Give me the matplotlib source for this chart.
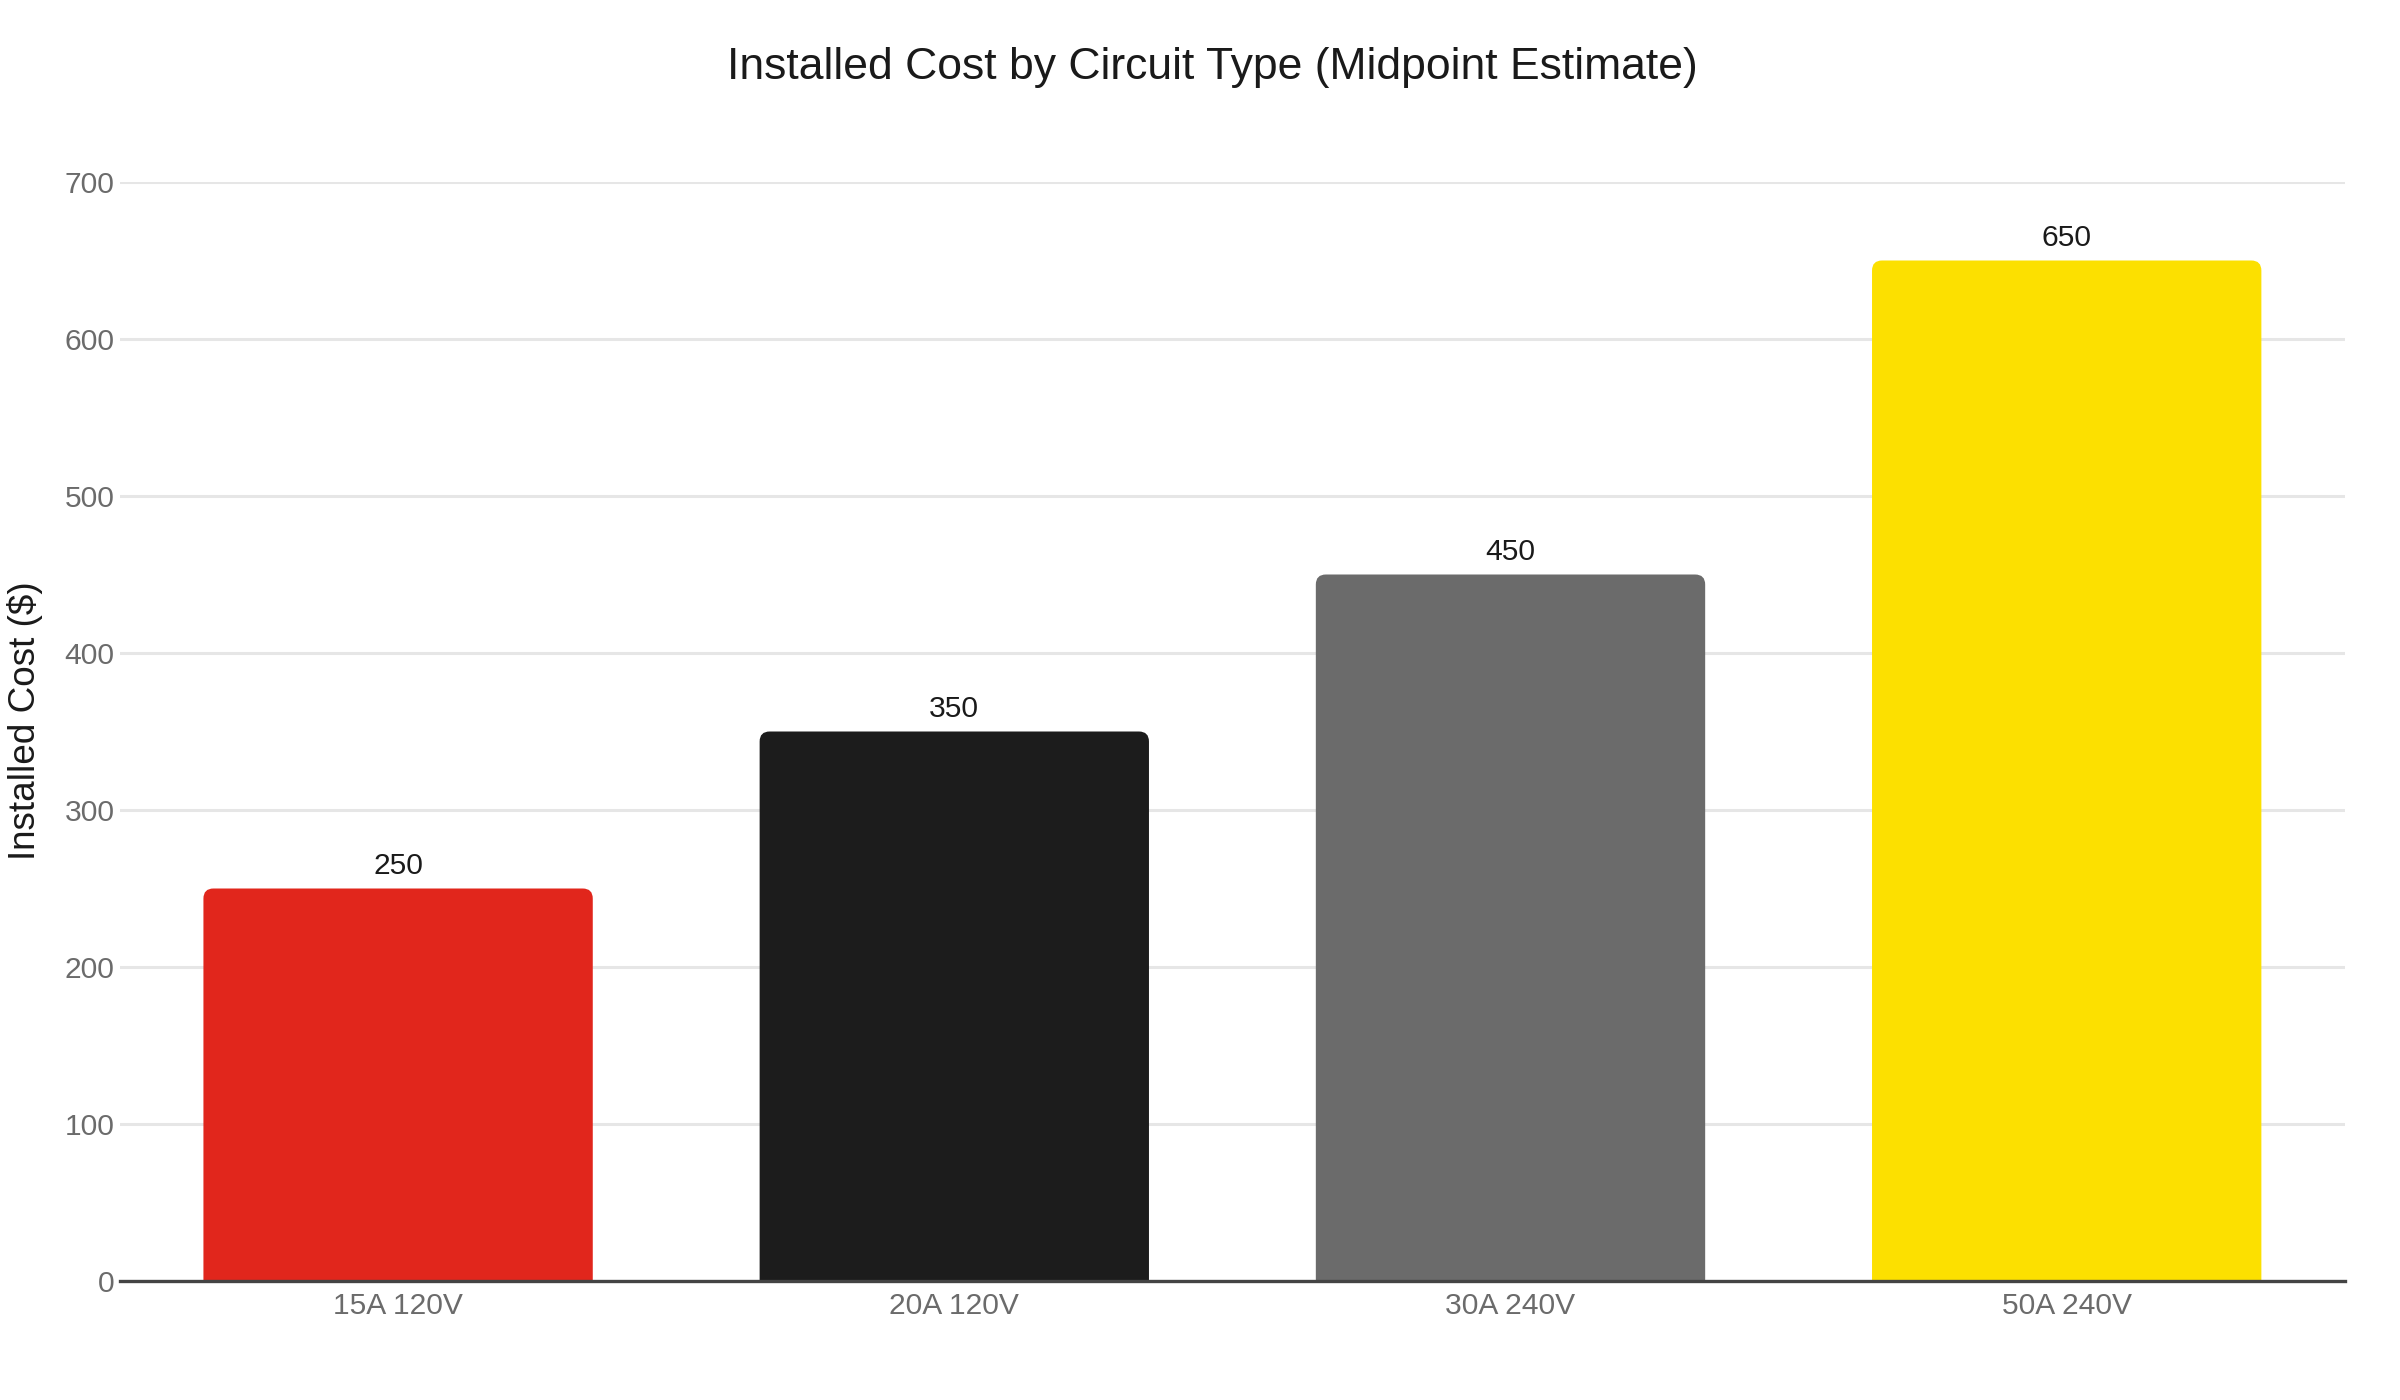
import matplotlib.pyplot as plt
from matplotlib.patches import FancyBboxPatch

plt.rcParams['font.family'] = ['Liberation Sans', 'DejaVu Sans']

circuits = ['15A 120V', '20A 120V', '30A 240V', '50A 240V']
costs = [250, 350, 450, 650]
colors = ['#E1261C', '#1C1C1C', '#6B6B6B', '#FCE000']

fig = plt.figure(figsize=(12, 7), dpi=200)
ax = fig.add_axes([0.050, 0.085, 0.927, 0.785])

xs = list(range(len(circuits)))
bars = ax.bar(xs, costs, width=0.7, color=colors, zorder=2)

ax.set_xlim(-0.5, len(circuits) - 0.5)
ax.set_ylim(0, 700)

# swap the square bars for ones with rounded top corners
px_per_x = 0.927 * 2400 / len(circuits)
px_per_y = 0.785 * 1400 / 700
radius = 10 / px_per_x
for b in bars:
    b.set_visible(False)
    patch = FancyBboxPatch((b.get_x(), -20), b.get_width(), b.get_height() + 20,
                           boxstyle=f'round,pad=0,rounding_size={radius}',
                           mutation_aspect=px_per_x / px_per_y,
                           facecolor=b.get_facecolor(), edgecolor='none',
                           zorder=2, clip_on=True)
    ax.add_patch(patch)
    ax.annotate(f'{b.get_height():.0f}', (b.get_x() + b.get_width() / 2, b.get_height()),
                xytext=(0, 3), textcoords='offset points', ha='center', va='bottom',
                fontsize=10.8, color='#1a1a1a')

ax.set_xticks(xs)
ax.set_xticklabels(circuits)
ax.set_yticks(range(0, 701, 100))
ax.tick_params(axis='both', length=0, labelsize=10.8, labelcolor='#6b6b6b')
ax.tick_params(axis='x', pad=4)
ax.tick_params(axis='y', pad=2)

ax.grid(axis='y', color='#e6e6e6', linewidth=1.1, zorder=0)
for s in ['top', 'right', 'left']:
    ax.spines[s].set_visible(False)
ax.spines['bottom'].set_color('#444444')
ax.spines['bottom'].set_linewidth(1.2)
ax.spines['bottom'].set_zorder(3)

ax.set_ylabel('Installed Cost ($)', fontsize=13.3, color='#1a1a1a')
ax.yaxis.set_label_coords(-0.0345, 0.51)

fig.text(0.505, 0.952, 'Installed Cost by Circuit Type (Midpoint Estimate)',
         ha='center', va='center', fontsize=16, color='#1a1a1a')

fig.savefig('out.png')
